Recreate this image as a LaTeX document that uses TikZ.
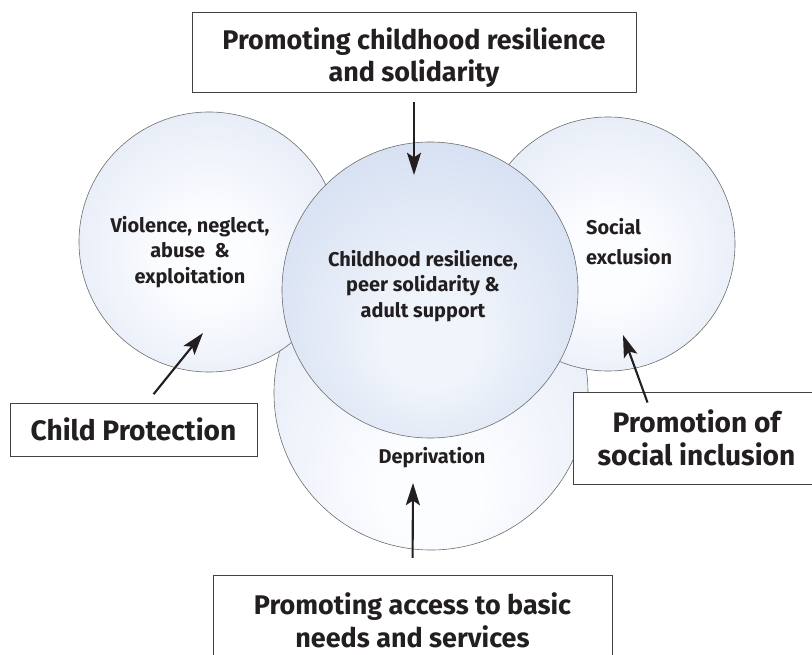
\documentclass[tikz,border=0pt]{standalone}
\usepackage{fontspec}
\setmainfont{Fira Sans}
\usetikzlibrary{arrows.meta,positioning}
\definecolor{coreout}{HTML}{BCCDE9}
\definecolor{corein}{HTML}{F0F4FB}
\definecolor{sideout}{HTML}{CDD9EE}
\definecolor{sidein}{HTML}{FCFDFF}
\definecolor{rimgray}{HTML}{6B6B6B}
\definecolor{inkdark}{HTML}{231F20}
\pgfdeclareradialshading{coreshade}{\pgfpoint{0bp}{-10bp}}{color(0bp)=(corein); color(8bp)=(corein); color(52bp)=(coreout)}
\pgfdeclareradialshading{sideshade}{\pgfpoint{0bp}{-4bp}}{color(0bp)=(sidein); color(8bp)=(sidein); color(52bp)=(sideout)}
\pgfdeclareradialshading{deprshade}{\pgfpoint{0bp}{-18bp}}{color(0bp)=(sidein); color(8bp)=(sidein); color(60bp)=(sideout)}

\begin{document}
\begin{tikzpicture}[x=0.03cm, y=-0.03cm,
    ring/.style={circle, draw=rimgray, line width=0.5pt, inner sep=0pt},
    caption/.style={text=inkdark, align=center, font=\bfseries\fontsize{17}{21.5}\selectfont},
    actionbox/.style={draw=inkdark!85, line width=0.8pt, fill=white, text=inkdark, align=center, font=\bfseries\fontsize{24}{28}\selectfont},
    pointer/.style={-{Stealth[length=19pt, width=12pt, inset=4pt]}, line width=1.8pt, draw=inkdark}]
    \useasboundingbox (0,0) rectangle (812,655);
    \clip (0,0) rectangle (812,655);
    % circles - back ones first, centre one on top
    \node[ring, shade, shading=deprshade, minimum size=9.42cm] (depr) at (431,393) {};
    \node[ring, shade, shading=sideshade, minimum size=7.8cm] (viol) at (209,242) {};
    \node[ring, shade, shading=sideshade, minimum size=7.62cm] (excl) at (608,244) {};
    \node[ring, shade, shading=coreshade, minimum size=8.88cm] (core) at (430,290) {};
    % circle texts
    \node[caption] (violtext) at (190,252) {Violence, neglect,\\abuse\ \ \&\\exploitation};
    \node[caption] (coretext) at (423,286) {Childhood resilience,\\peer solidarity \&\\adult support};
    \node[caption, align=left, anchor=west, font=\bfseries\fontsize{17}{25.5}\selectfont] (excltext) at (582,242) {Social\\exclusion};
    \node[caption] (deprtext) at (432,458) {Deprivation};
    % boxes round the outside
    \node[actionbox, minimum width=13.32cm, minimum height=2.4cm, font=\bfseries\fontsize{23}{28}\selectfont] (resil) at (414,52) {\rule{0pt}{28pt}Promoting childhood resilience\\and solidarity};
    \node[actionbox, minimum width=7.41cm, minimum height=1.59cm] (protect) at (133.5,429.5) {Child Protection};
    \node[actionbox, minimum width=7.41cm, minimum height=2.76cm] (inclus) at (696.5,438) {Promotion of\\social inclusion};
    \node[actionbox, minimum width=11.97cm, minimum height=2.7cm, font=\bfseries\fontsize{23}{28}\selectfont] (basic) at (412.5,620) {Promoting access to basic\\needs and services};
    % arrow heads
    \coordinate (corehit) at (414,175);
    \coordinate (violhit) at (203,333);
    \coordinate (exclhit) at (623,335);
    \coordinate (deprhit) at (413,483);
    % arrows
    \draw[pointer, shorten <=0.3cm] (resil.south) -- (corehit);
    \draw[pointer, shorten <=0.32cm] ([xshift=0.4cm]protect.north) -- (violhit);
    \draw[pointer] ([xshift=2.25cm, yshift=-0.33cm]inclus.north west) -- (exclhit);
    \draw[pointer, shorten <=0.5cm] (basic.north) -- (deprhit);
\end{tikzpicture}
\end{document}
